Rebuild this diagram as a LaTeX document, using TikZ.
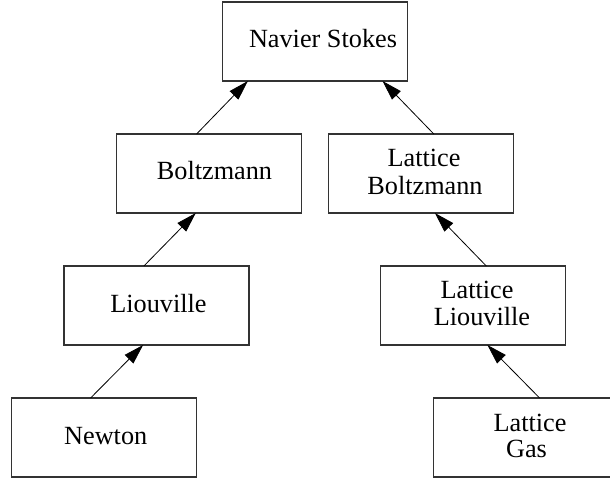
\documentclass[tikz,border=0pt]{standalone}
\usepackage{fontspec}
\setmainfont{Liberation Serif}
\usetikzlibrary{arrows.meta}
\tikzset{
  box/.style={draw=black!80, line width=1.3pt, minimum width=185pt, minimum height=79pt, inner sep=0pt, outer sep=0pt},
  lbl/.style={anchor=base, inner sep=0pt, font=\fontsize{26.25}{27}\selectfont},
  arr/.style={-{Triangle[length=20pt,width=12pt]}, line width=0.8pt, black}
}
\begin{document}
\begin{tikzpicture}[x=1pt,y=-1pt]
\clip (0,0) rectangle (610,478);
% boxes
\node[box] (nav) at (315,41.5) {};
\node[box] (bol) at (209.3,173.5) {};
\node[box] (lbo) at (420.7,173.5) {};
\node[box] (lio) at (156.6,305.5) {};
\node[box] (lli) at (473.2,305.5) {};
\node[box] (new) at (103.7,437.5) {};
\node[box] (lga) at (526.1,437.5) {};
% labels
\node[lbl] (navT) at (323,48) {Navier Stokes};
\node[lbl] (bolT) at (214.5,180) {Boltzmann};
\node[lbl] (lioT) at (158.5,312) {Liouville};
\node[lbl] (newT) at (105.7,444) {Newton};
\node[lbl] (lboT1) at (424,166.7) {Lattice};
\node[lbl] (lboT2) at (425,194.3) {Boltzmann};
\node[lbl] (lliT1) at (477,298.3) {Lattice};
\node[lbl] (lliT2) at (482,325.7) {Liouville};
\node[lbl] (lgaT1) at (530,431) {Lattice};
\node[lbl] (lgaT2) at (526.5,457.7) {Gas};
% connectors
\draw[arr] ([xshift=79.8pt]bol.north west) -- ([xshift=25.4pt]nav.south west);
\draw[arr] ([xshift=105.6pt]lbo.north west) -- ([xshift=160pt]nav.south west);
\draw[arr] ([xshift=79.8pt]lio.north west) -- ([xshift=79pt]bol.south west);
\draw[arr] ([xshift=105.6pt]lli.north west) -- ([xshift=106.7pt]lbo.south west);
\draw[arr] ([xshift=79.4pt]new.north west) -- ([xshift=79pt]lio.south west);
\draw[arr] ([xshift=106pt]lga.north west) -- ([xshift=106.7pt]lli.south west);
\end{tikzpicture}
\end{document}
